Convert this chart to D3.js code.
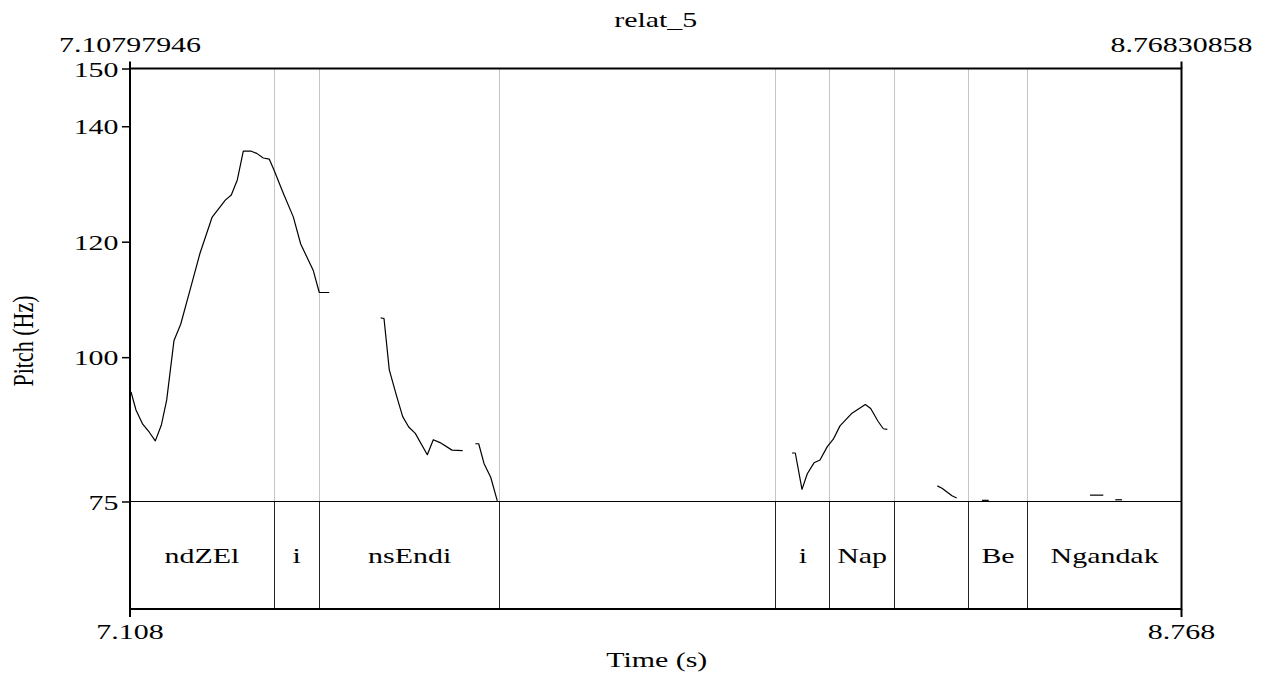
<!DOCTYPE html>
<html>
<head>
<meta charset="utf-8">
<script src="https://cdn.jsdelivr.net/npm/d3@7"></script>
<style>
  html, body { margin: 0; padding: 0; background: #fff; }
  svg { display: block; }
  text { font-family: "Liberation Serif", "Times New Roman", serif; fill: #000; }
</style>
</head>
<body>
<svg id="chart" width="1269" height="675"></svg>
<script>
// ---- data ----
const title = "relat_5";
const timeDomain = [7.10797946, 8.76830858];
const pitchDomain = [75, 150];
const yTickValues = [75, 100, 120, 140, 150];
const topTimeLabels = ["7.10797946", "8.76830858"];
const bottomTimeLabels = ["7.108", "8.768"];
const xTitle = "Time (s)";
const yTitle = "Pitch (Hz)";

// interval tier: boundaries (s) and labels
const tierBoundaries = [7.33536, 7.40689, 7.69221, 8.12754, 8.21328, 8.31481, 8.43166, 8.52545];
const tierLabels = ["ndZEl", "i", "nsEndi", "", "i", "Nap", "", "Be", "Ngandak"];

// pitch contour segments (time s, pitch Hz)
const seg1Times = [7.10956, 7.11745, 7.12803, 7.13845, 7.14793, 7.15740, 7.16593, 7.17746, 7.18803, 7.20272, 7.21851, 7.23746, 7.25846, 7.26793, 7.27741, 7.28688, 7.29857, 7.30804, 7.31846, 7.32794, 7.33536, 7.35004, 7.36583, 7.37752, 7.39741, 7.40688, 7.42267];
const seg1Hz    = [94.0, 90.85, 88.4, 87.0, 85.5, 88.2, 92.6, 102.9, 105.7, 111.6, 118.0, 124.2, 127.2, 128.1, 130.7, 135.7, 135.7, 135.3, 134.5, 134.3, 132.4, 128.4, 124.3, 119.6, 115.0, 111.2, 111.2];
const seg2Times = [7.50384, 7.50905, 7.51741, 7.52910, 7.53857, 7.54805, 7.55847, 7.57742, 7.58689, 7.59747, 7.61642, 7.63331];
const seg2Hz    = [106.8, 106.7, 97.8, 93.2, 89.7, 87.9, 86.8, 83.1, 85.7, 85.2, 83.9, 83.8];
const seg3Times = [7.65321, 7.65858, 7.66695, 7.67753, 7.68795];
const seg3Hz    = [85.0, 85.0, 81.6, 79.2, 75.1];
const seg4Times = [8.15328, 8.15849, 8.16907, 8.17744, 8.18802, 8.19749, 8.20902, 8.21849, 8.22907, 8.24802, 8.26065, 8.26902, 8.27755, 8.28907, 8.29744, 8.30376];
const seg4Hz    = [83.4, 83.4, 77.1, 79.8, 81.7, 82.2, 84.5, 85.8, 88.1, 90.3, 91.2, 91.8, 91.1, 88.9, 87.6, 87.5];
const seg5Times = [8.38271, 8.39013, 8.40592, 8.41334];
const seg5Hz    = [77.7, 77.3, 76.0, 75.6];
const seg6Times = [8.45329, 8.46387];
const seg6Hz    = [75.2, 75.2];
const seg7Times = [8.62382, 8.64483];
const seg7Hz    = [76.1, 76.1];
const seg8Times = [8.66377, 8.67435];
const seg8Hz    = [75.3, 75.3];

// ---- layout ----
const svg = d3.select("#chart");
const plotLeft = 130, plotRight = 1181.5, plotTop = 68.5, pitchBottom = 501.5, tierBottom = 609;
const fontSize = 22, stretch = 1.36;

const x = d3.scaleLinear().domain(timeDomain).range([plotLeft, plotRight]);
const y = d3.scaleLinear().domain(pitchDomain).range([pitchBottom, plotTop]);
const crisp = v => Math.round(v - 0.5) + 0.5;

function stretchedText(g, str, tx, ty, anchor, rot) {
  return g.append("text")
    .attr("transform", `translate(${tx},${ty}) scale(${stretch},1)` + (rot ? ` rotate(${rot})` : ""))
    .attr("text-anchor", anchor)
    .attr("font-size", fontSize)
    .text(str);
}

// dotted boundary lines in pitch area
svg.append("g").selectAll("line").data(tierBoundaries).join("line")
  .attr("x1", d => crisp(x(d))).attr("x2", d => crisp(x(d)))
  .attr("y1", plotTop).attr("y2", pitchBottom)
  .attr("stroke", "#8a8a8a").attr("stroke-width", 1).attr("stroke-dasharray", "1,1");

// solid boundary lines in tier
svg.append("g").selectAll("line").data(tierBoundaries).join("line")
  .attr("x1", d => crisp(x(d))).attr("x2", d => crisp(x(d)))
  .attr("y1", pitchBottom).attr("y2", tierBottom)
  .attr("stroke", "#222").attr("stroke-width", 1);

// 75 Hz baseline (tier top)
svg.append("line")
  .attr("x1", plotLeft).attr("x2", plotRight)
  .attr("y1", y(pitchDomain[0])).attr("y2", y(pitchDomain[0]))
  .attr("stroke", "#000").attr("stroke-width", 1);

// tier labels
const edges = [timeDomain[0], ...tierBoundaries, timeDomain[1]];
const tierG = svg.append("g");
tierLabels.forEach((lab, i) => {
  if (!lab) return;
  const cx = (x(edges[i]) + x(edges[i + 1])) / 2;
  stretchedText(tierG, lab, cx, 563, "middle");
});

// pitch contour
const segments = [
  [seg1Times, seg1Hz], [seg2Times, seg2Hz], [seg3Times, seg3Hz], [seg4Times, seg4Hz],
  [seg5Times, seg5Hz], [seg6Times, seg6Hz], [seg7Times, seg7Hz], [seg8Times, seg8Hz]
].map(([ts, hs]) => ts.map((t, i) => [t, hs[i]]));
const line = d3.line().x(d => x(d[0])).y(d => y(d[1]));
svg.append("g").selectAll("path").data(segments).join("path")
  .attr("d", line).attr("fill", "none").attr("stroke", "#000").attr("stroke-width", 1.2)
  .attr("stroke-linejoin", "round");

// frame
svg.append("rect")
  .attr("x", plotLeft).attr("y", plotTop).attr("width", plotRight - plotLeft).attr("height", tierBottom - plotTop)
  .attr("fill", "none").attr("stroke", "#000").attr("stroke-width", 2);

// left axis
const yAxis = d3.axisLeft(y).tickValues(yTickValues).tickSize(8).tickFormat(d3.format("d"));
const yAxisG = svg.append("g").attr("transform", `translate(${plotLeft},0)`).call(yAxis);
yAxisG.select(".domain").remove();
yAxisG.selectAll(".tick line").attr("stroke", "#000").attr("stroke-width", 1.5);
yAxisG.selectAll(".tick text")
  .attr("x", null).attr("dy", null).attr("fill", "#000")
  .attr("font-size", fontSize).attr("font-family", "Liberation Serif, serif")
  .attr("text-anchor", "end")
  .attr("transform", `translate(-11.5,7.5) scale(${stretch},1)`);

// corner marks top & bottom
const cornerG = svg.append("g");
timeDomain.forEach(t => {
  cornerG.append("line").attr("x1", x(t)).attr("x2", x(t)).attr("y1", plotTop - 7).attr("y2", plotTop)
    .attr("stroke", "#000").attr("stroke-width", 2);
  cornerG.append("line").attr("x1", x(t)).attr("x2", x(t)).attr("y1", tierBottom).attr("y2", tierBottom + 8)
    .attr("stroke", "#000").attr("stroke-width", 2);
});
const labG = svg.append("g");
timeDomain.forEach((t, i) => {
  stretchedText(labG, topTimeLabels[i], x(t), 51.5, "middle");
  stretchedText(labG, bottomTimeLabels[i], x(t), 639, "middle");
});

// titles
stretchedText(labG, title, (plotLeft + plotRight) / 2, 27, "middle");
stretchedText(labG, xTitle, (plotLeft + plotRight) / 2 + 1, 667, "middle");
stretchedText(labG, yTitle, 33, 341, "middle", -90);
</script>
</body>
</html>
